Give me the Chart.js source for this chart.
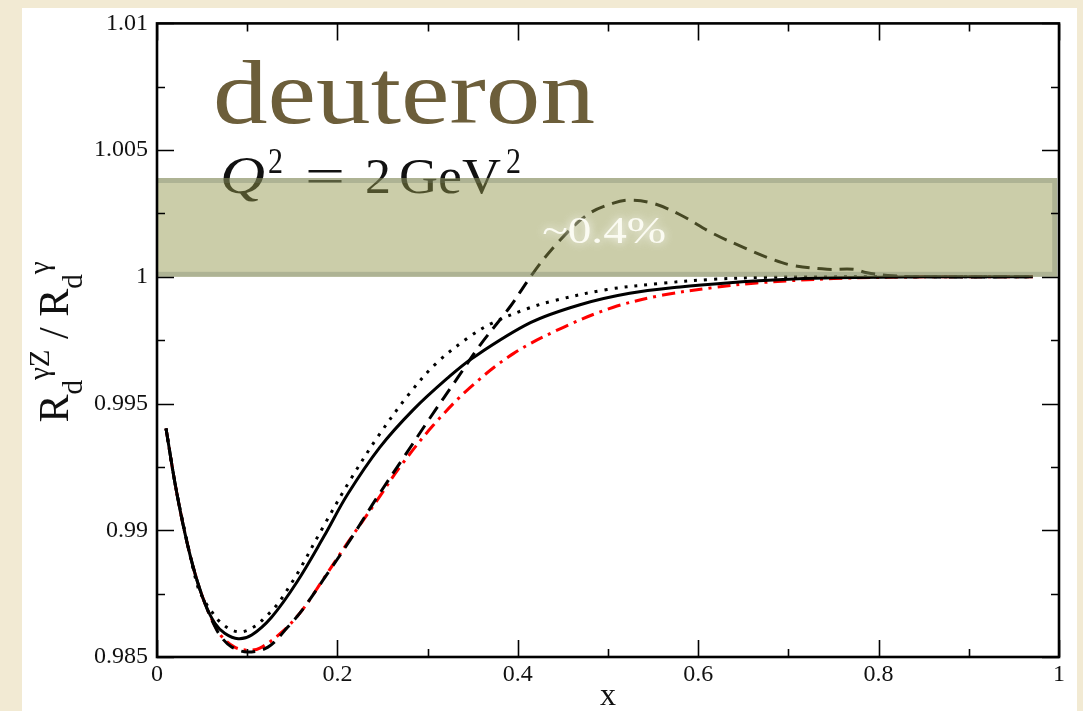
<!DOCTYPE html>
<html>
<head>
<meta charset="utf-8">
<script src="https://cdn.jsdelivr.net/npm/chart.js@4.4.1/dist/chart.umd.min.js"></script>
<style>
  html, body { margin: 0; padding: 0; }
  body { width: 1083px; height: 711px; background: #f2ead3; position: relative; overflow: hidden; }
  #panel { position: absolute; left: 22px; top: 8px; width: 1055px; height: 703px; background: #fff; }
  #chart { position: absolute; left: 0; top: 0; }
</style>
</head>
<body>
<div id="panel"></div>
<canvas id="chart" width="1083" height="711"></canvas>
<script>
// x and R_d^{gammaZ}/R_d^{gamma} for each curve
const X_SOLID = [0.010, 0.020, 0.031, 0.042, 0.053, 0.064, 0.075, 0.090, 0.105, 0.127, 0.155, 0.185, 0.211, 0.247, 0.284, 0.322, 0.350, 0.414, 0.469, 0.524, 0.580, 0.635, 0.683, 0.750, 0.850, 0.971];
const Y_SOLID = [0.99402, 0.99185, 0.98988, 0.98831, 0.98713, 0.98634, 0.98594, 0.98572, 0.98587, 0.98657, 0.98795, 0.98975, 0.99140, 0.99327, 0.99475, 0.99600, 0.99680, 0.99819, 0.99890, 0.99935, 0.99960, 0.99977, 0.99988, 0.99996, 1.00000, 1.00000];

const X_DOT = [0.010, 0.020, 0.031, 0.045, 0.053, 0.061, 0.070, 0.083, 0.095, 0.109, 0.120, 0.131, 0.140, 0.147, 0.156, 0.184, 0.214, 0.245, 0.280, 0.310, 0.347, 0.373, 0.411, 0.439, 0.499, 0.561, 0.616, 0.676, 0.800, 0.971];
const Y_DOT = [0.99402, 0.99185, 0.98995, 0.98780, 0.98720, 0.98677, 0.98638, 0.98606, 0.98600, 0.98622, 0.98657, 0.98697, 0.98740, 0.98780, 0.98831, 0.99012, 0.99197, 0.99370, 0.99540, 0.99660, 0.99765, 0.99820, 0.99875, 0.99905, 0.99950, 0.99975, 0.99990, 0.99998, 1.00000, 1.00000];

const X_RED = [0.010, 0.020, 0.031, 0.042, 0.053, 0.064, 0.072, 0.086, 0.100, 0.114, 0.139, 0.161, 0.183, 0.211, 0.244, 0.269, 0.306, 0.347, 0.395, 0.450, 0.506, 0.561, 0.616, 0.665, 0.750, 0.850, 0.971];
const Y_RED = [0.99402, 0.99185, 0.98988, 0.98831, 0.98713, 0.98625, 0.98580, 0.98539, 0.98527, 0.98535, 0.98600, 0.98685, 0.98800, 0.98949, 0.99118, 0.99248, 0.99413, 0.99563, 0.99697, 0.99800, 0.99880, 0.99928, 0.99957, 0.99976, 0.99993, 1.00000, 1.00000];

const X_DASH = [0.010, 0.020, 0.031, 0.042, 0.053, 0.064, 0.072, 0.083, 0.100, 0.123, 0.145, 0.162, 0.184, 0.214, 0.244, 0.273, 0.303, 0.333, 0.358, 0.391, 0.417, 0.443, 0.477, 0.506, 0.524, 0.550, 0.580, 0.616, 0.654, 0.683, 0.705, 0.743, 0.772, 0.787, 0.816, 0.850, 0.971];
const Y_DASH = [0.99402, 0.99185, 0.98988, 0.98831, 0.98713, 0.98622, 0.98575, 0.98539, 0.98520, 0.98539, 0.98618, 0.98690, 0.98803, 0.98961, 0.99130, 0.99285, 0.99445, 0.99600, 0.99730, 0.99880, 1.00015, 1.00130, 1.00245, 1.00291, 1.00303, 1.00290, 1.00245, 1.00172, 1.00110, 1.00068, 1.00045, 1.00030, 1.00030, 1.00016, 1.00004, 1.00000, 1.00000];

// shaded ~0.4% band
const BAND_X = [0, 0.998];
const BAND_Y = [1.0, 1.0039];

const X_TICKS = [0, 0.1, 0.2, 0.3, 0.4, 0.5, 0.6, 0.7, 0.8, 0.9, 1.0];
const Y_TICKS = [0.985, 0.9875, 0.99, 0.9925, 0.995, 0.9975, 1.0, 1.0025, 1.005, 1.0075, 1.01];

const SERIF = '"Liberation Serif", "Times New Roman", serif';

function pts(xs, ys) {
  return xs.map((x, i) => ({ x, y: ys[i] }));
}

function line(data, color, dash) {
  return {
    data,
    borderColor: color,
    borderWidth: 3,
    borderDash: dash,
    pointRadius: 0,
    fill: false,
    tension: 0.35,
  };
}

// draw text squeezed/stretched to a given width
function fitText(ctx, text, x, y, width, font) {
  ctx.font = font;
  const w = ctx.measureText(text).width;
  ctx.save();
  ctx.translate(x, y);
  ctx.scale(width / w, 1);
  ctx.fillText(text, 0, 0);
  ctx.restore();
}

function drawYTitle(ctx, cx, cy) {
  const big = "42px " + SERIF;
  const small = "29px " + SERIF;
  const runs = [
    ["R", big, 0], ["d", small, 14], ["\u03b3Z", small, -19],
    [" / ", big, 0],
    ["R", big, 0], ["d", small, 14], ["\u03b3", small, -19],
  ];
  let total = 0;
  const widths = runs.map(([t, f]) => {
    ctx.font = f;
    const w = ctx.measureText(t).width;
    total += w;
    return w;
  });
  ctx.save();
  ctx.translate(cx, cy);
  ctx.rotate(-Math.PI / 2);
  ctx.fillStyle = "#111";
  ctx.textBaseline = "alphabetic";
  let x = -total / 2;
  runs.forEach(([t, f, dy], i) => {
    ctx.font = f;
    ctx.fillText(t, x, dy);
    x += widths[i];
  });
  ctx.restore();
}

const decor = {
  id: "decor",
  beforeDatasetsDraw(chart) {
    const { ctx, chartArea: a } = chart;
    ctx.save();
    ctx.textBaseline = "alphabetic";
    ctx.fillStyle = "#6c5e3a";
    fitText(ctx, "deuteron", a.left + 56, a.top + 100, 382, "92px " + SERIF);
    ctx.fillStyle = "#111";
    fitText(ctx, "Q", a.left + 63, a.top + 170, 45, "italic 52px " + SERIF);
    fitText(ctx, "2", a.left + 111, a.top + 150, 15, "36px " + SERIF);
    fitText(ctx, "=", a.left + 148, a.top + 170, 40, "50px " + SERIF);
    fitText(ctx, "2", a.left + 208, a.top + 170, 26, "50px " + SERIF);
    fitText(ctx, "GeV", a.left + 242, a.top + 170, 102, "50px " + SERIF);
    fitText(ctx, "2", a.left + 349, a.top + 150, 15, "36px " + SERIF);
    ctx.restore();
  },
  afterDatasetsDraw(chart) {
    const { ctx, scales: { x, y } } = chart;
    const l = x.getPixelForValue(BAND_X[0]);
    const r = x.getPixelForValue(BAND_X[1]);
    const t = y.getPixelForValue(BAND_Y[1]);
    const b = y.getPixelForValue(BAND_Y[0]);
    ctx.save();
    ctx.fillStyle = "rgba(146, 150, 75, 0.48)";
    ctx.fillRect(l, t, r - l, b - t);
    // darker rim on top, right and bottom
    ctx.fillStyle = "rgba(110, 120, 100, 0.3)";
    ctx.fillRect(l, t, r - l, 5);
    ctx.fillRect(l, b - 5, r - l, 5);
    ctx.fillRect(r - 5, t + 5, 5, b - t - 10);

    // ~0.4% label, white with a soft glow
    ctx.shadowColor = "rgba(255, 255, 255, 0.9)";
    ctx.shadowBlur = 8;
    ctx.fillStyle = "#fbfbf2";
    ctx.textBaseline = "alphabetic";
    fitText(ctx, "~0.4%", x.getPixelForValue(0.427), t + 65, 124, "38px " + SERIF);
    ctx.restore();
  },
  afterDraw(chart) {
    const { ctx, chartArea: a, scales: { x, y } } = chart;
    ctx.save();
    ctx.strokeStyle = "#000";
    ctx.lineWidth = 1.6;
    ctx.beginPath();
    X_TICKS.forEach((v, i) => {
      const px = Math.round(x.getPixelForValue(v)) + 0.5;
      const len = i % 2 === 0 ? 17 : 8;
      ctx.moveTo(px, a.bottom); ctx.lineTo(px, a.bottom - len);
      ctx.moveTo(px, a.top); ctx.lineTo(px, a.top + len);
    });
    Y_TICKS.forEach((v, i) => {
      const py = Math.round(y.getPixelForValue(v)) + 0.5;
      const len = i % 2 === 0 ? 17 : 8;
      ctx.moveTo(a.left, py); ctx.lineTo(a.left + len, py);
      ctx.moveTo(a.right, py); ctx.lineTo(a.right - len, py);
    });
    ctx.stroke();
    ctx.lineWidth = 2.6;
    ctx.strokeRect(a.left, a.top, a.right - a.left, a.bottom - a.top);
    ctx.restore();

    drawYTitle(ctx, 68, 342);
  },
};

new Chart(document.getElementById("chart"), {
  type: "line",
  data: {
    datasets: [
      line(pts(X_SOLID, Y_SOLID), "#000", []),
      line(pts(X_DASH, Y_DASH), "#000", [14, 8]),
      line(pts(X_DOT, Y_DOT), "#000", [3, 7]),
      line(pts(X_RED, Y_RED), "#ff0000", [13, 6, 3, 6]),
    ],
  },
  options: {
    responsive: false,
    animation: false,
    layout: { padding: { top: 22, right: 24, left: 0, bottom: 0 } },
    plugins: { legend: { display: false }, tooltip: { enabled: false } },
    scales: {
      x: {
        type: "linear",
        min: 0,
        max: 1,
        grid: { display: false, drawTicks: false },
        border: { display: false },
        ticks: {
          stepSize: 0.2,
          autoSkip: false,
          maxRotation: 0,
          padding: 3,
          color: "#111",
          font: { family: SERIF, size: 24 },
          callback: (v) => String(Number(v.toFixed(2))),
        },
        title: {
          display: true,
          text: "x",
          color: "#111",
          padding: { top: 0, bottom: 0 },
          font: { family: SERIF, size: 32, lineHeight: 0.9 },
        },
        afterFit: (s) => { s.height = 54; },
      },
      y: {
        min: 0.985,
        max: 1.01,
        grid: { display: false, drawTicks: false },
        border: { display: false },
        ticks: {
          stepSize: 0.005,
          autoSkip: false,
          padding: 9,
          color: "#111",
          font: { family: SERIF, size: 24 },
          callback: (v) => String(Number(v.toFixed(4))),
        },
        afterFit: (s) => { s.width = 157; },
      },
    },
  },
  plugins: [decor],
});
</script>
</body>
</html>
